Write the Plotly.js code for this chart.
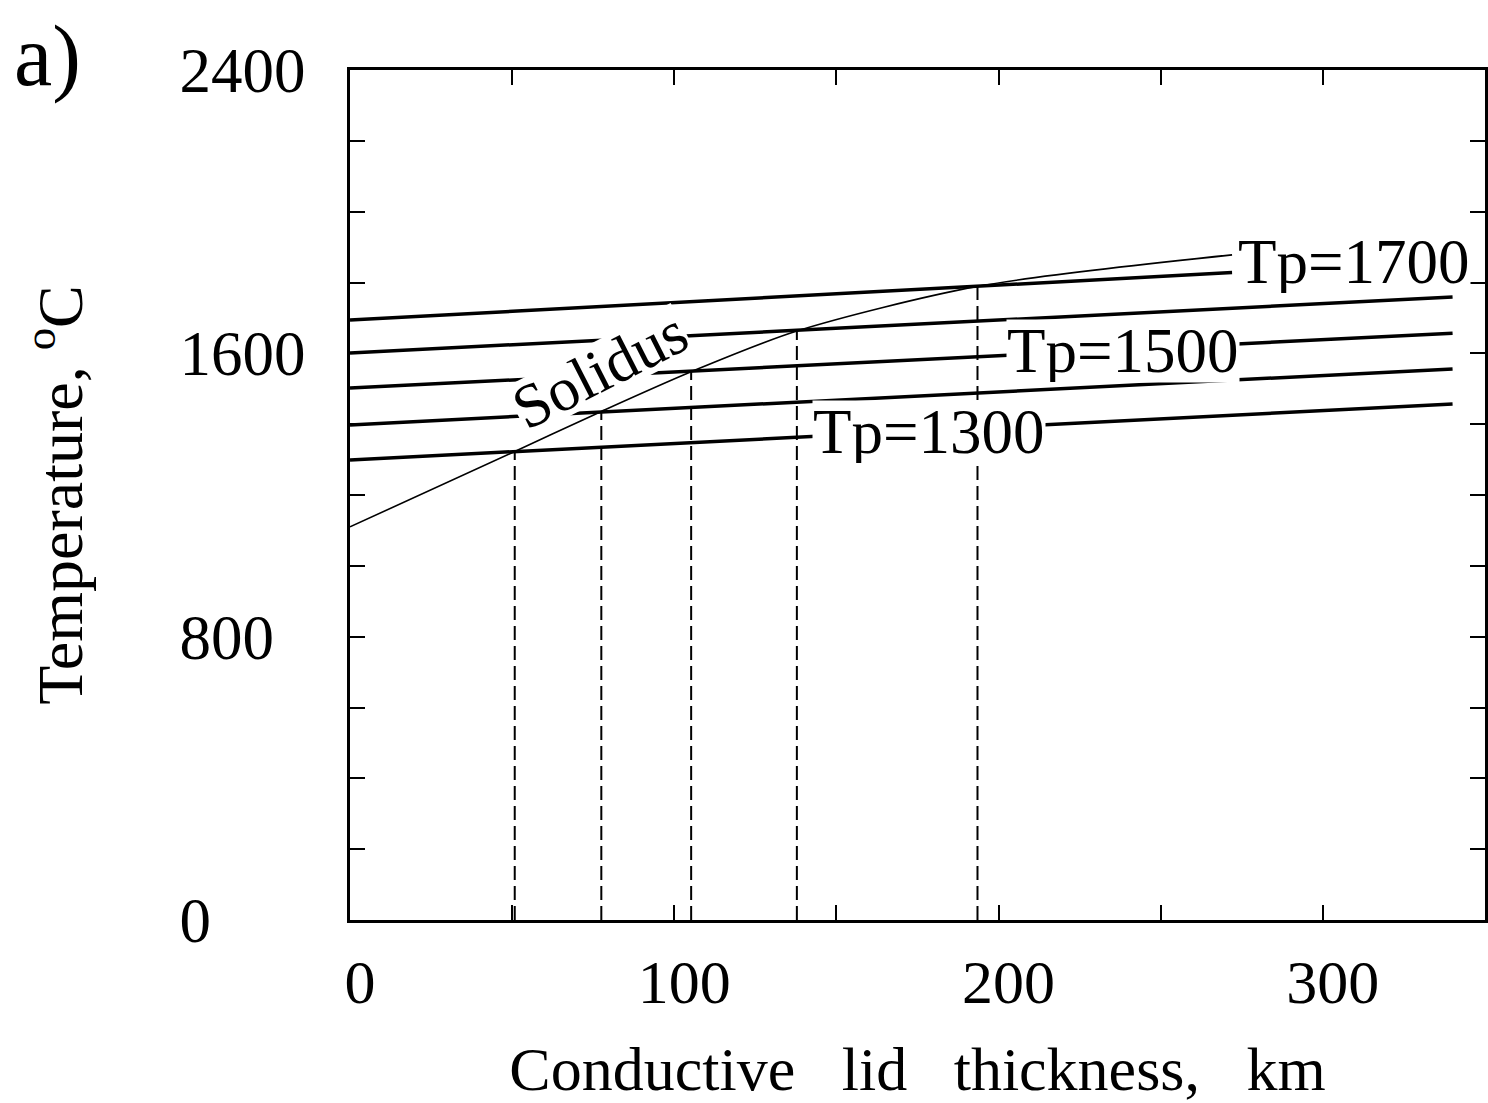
<!DOCTYPE html>
<html>
<head>
<meta charset="utf-8">
<script src="https://cdn.plot.ly/plotly-3.0.1.min.js"></script>
<style>html,body{margin:0;padding:0;background:#fff;}#chart{width:1488px;height:1103px;}</style>
</head>
<body>
<div id="chart"></div>
<script>
// Mantle adiabats (potential temperature Tp) in the conductive lid
const tpValues   = [1700, 1600, 1500, 1400, 1300];
const lidStart   = [0, 0, 0, 0, 0];
const lidEnd     = [272, 340, 340, 340, 340];
const tempStart  = [1694, 1601, 1502, 1398, 1299];
const tempEnd    = [1828, 1759, 1657, 1556, 1457];

// Solidus curve
const solidusLid  = [0, 50.8, 77.5, 105.2, 137.8, 193.5, 272];
const solidusTemp = [1110, 1323, 1436, 1548, 1663, 1789, 1878];

// Intersections of solidus with adiabats (dashed drop lines)
const crossLid  = [50.8, 77.5, 105.2, 137.8, 193.5];
const crossTemp = [1323, 1436, 1548, 1663, 1789];

// Labels
const tpLabelText = ["Tp=1700", "Tp=1500", "Tp=1300"];
const tpLabelLid  = [309.5, 238.5, 178.5];
const tpLabelTemp = [1858, 1608, 1378];

const xTickVals = [0, 50, 100, 150, 200, 250, 300, 350];
const xTickText = ["0", "", "100", "", "200", "", "300", ""];
const yTickVals = [0,200,400,600,800,1000,1200,1400,1600,1800,2000,2200,2400];
const yTickText = ["0","","","","800","","","","1600","","","","2400"];

const NB = "\u00A0";
function padLabel(s){ if(!s) return s; return s + NB.repeat(2*(4 - s.length)); }

const traces = [];
for (let i = 0; i < tpValues.length; i++) {
  traces.push({
    x: [lidStart[i], lidEnd[i]], y: [tempStart[i], tempEnd[i]],
    mode: "lines", line: {color: "#000", width: 3.5},
    hoverinfo: "skip", showlegend: false
  });
}
traces.push({
  x: solidusLid, y: solidusTemp, mode: "lines",
  line: {color: "#000", width: 1.6, shape: "spline", smoothing: 0.8},
  hoverinfo: "skip", showlegend: false
});
for (let i = 0; i < crossLid.length; i++) {
  traces.push({
    x: [crossLid[i], crossLid[i]], y: [0, crossTemp[i]],
    mode: "lines", line: {color: "#000", width: 2, dash: "14px,6px"},
    hoverinfo: "skip", showlegend: false
  });
}

const fontFam = "Liberation Serif, Times New Roman, serif";
const annotations = [];
for (let i = 0; i < tpLabelText.length; i++) {
  annotations.push({
    x: tpLabelLid[i], y: tpLabelTemp[i], xref: "x", yref: "y",
    text: tpLabelText[i], showarrow: false,
    font: {family: fontFam, size: 63, color: "#000"},
    bgcolor: "#fff", borderpad: 0, height: 62
  });
}
annotations.push({
  x: 77, y: 1552, xref: "x", yref: "y", text: "Solidus", showarrow: false,
  textangle: -27, font: {family: fontFam, size: 62, color: "#000"},
  bgcolor: "#fff", borderpad: 0, height: 54
});
annotations.push({
  x: -0.298, y: 1.075, xref: "paper", yref: "paper", xanchor: "left", yanchor: "top",
  text: "a)", showarrow: false, font: {family: fontFam, size: 86, color: "#000"}
});

const layout = {
  width: 1488, height: 1103,
  paper_bgcolor: "#fff", plot_bgcolor: "#fff",
  margin: {l: 350, r: 3, t: 70, b: 183},
  font: {family: fontFam, color: "#000"},
  xaxis: {
    range: [0, 350], tickmode: "array", tickvals: xTickVals, ticktext: xTickText,
    ticks: "inside", ticklen: 15, tickwidth: 2, tickcolor: "#000",
    showline: true, linewidth: 3, linecolor: "#000", mirror: "ticks",
    showgrid: false, zeroline: false,
    tickfont: {family: fontFam, size: 62}, ticklabelstandoff: 6, ticklabelshift: 10,
    title: {text: "Conductive" + NB+NB+NB + "lid" + NB+NB+NB + "thickness," + NB+NB+NB + "km",
            font: {family: fontFam, size: 62}, standoff: 32}
  },
  yaxis: {
    range: [0, 2400], tickmode: "array", tickvals: yTickVals, ticktext: yTickText.map(padLabel),
    ticks: "inside", ticklen: 15, tickwidth: 2, tickcolor: "#000",
    showline: true, linewidth: 3, linecolor: "#000", mirror: "ticks",
    showgrid: false, zeroline: false,
    tickfont: {family: fontFam, size: 63}, ticklabelstandoff: 29,
    title: {text: "Temperature, <sup>o</sup>C", font: {family: fontFam, size: 64}, standoff: 77}
  },
  annotations: annotations,
  showlegend: false
};

Plotly.newPlot("chart", traces, layout, {displayModeBar: false, staticPlot: true});
</script>
</body>
</html>
